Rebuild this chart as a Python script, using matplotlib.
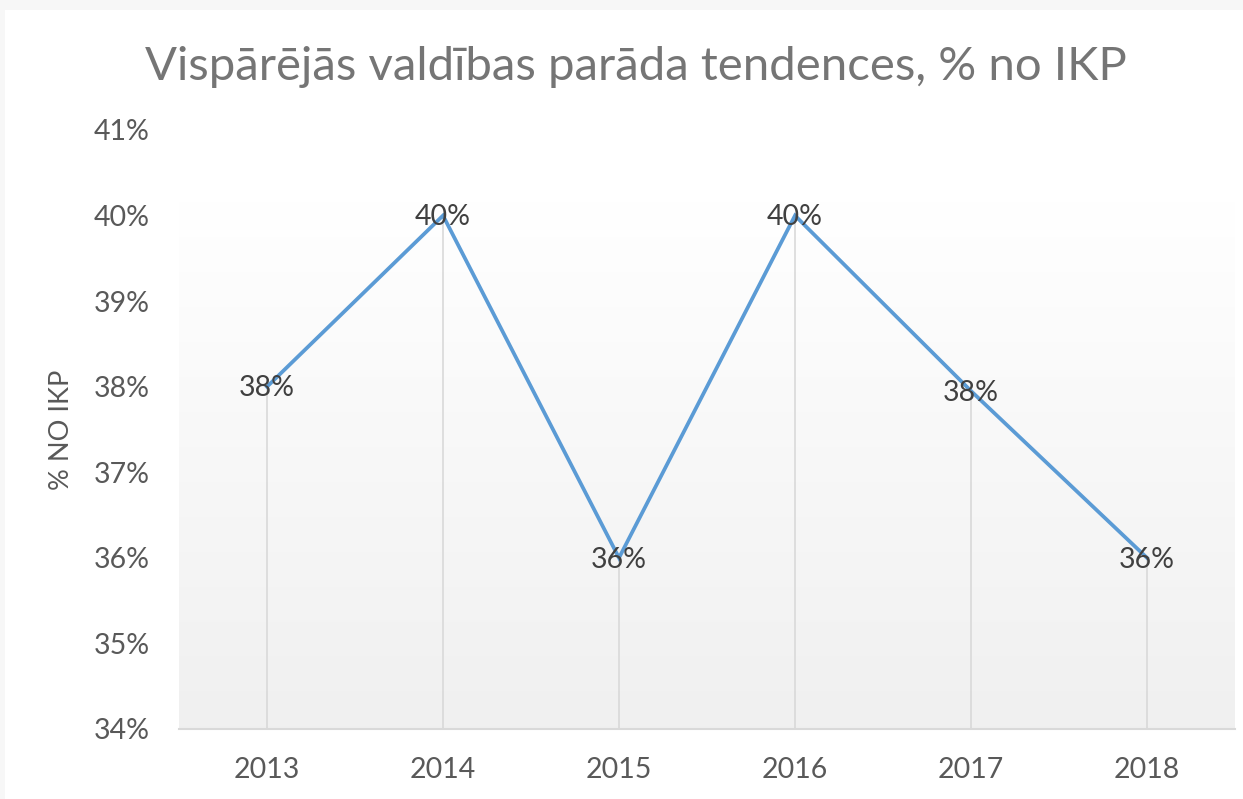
import matplotlib
matplotlib.use("Agg")
import matplotlib.pyplot as plt
import numpy as np
from matplotlib.patches import Rectangle

years = ["2013", "2014", "2015", "2016", "2017", "2018"]
debt_pct = [38.0, 40.0, 36.0, 40.0, 37.95, 36.0]
labels = ["38%", "40%", "36%", "40%", "38%", "36%"]
yticks = [34, 35, 36, 37, 38, 39, 40, 41]

plt.rcParams["font.family"] = ["Lato", "DejaVu Sans"]

fig = plt.figure(figsize=(12.43, 7.99), dpi=100)
fig.patch.set_facecolor("#f7f7f7")
fig.patches.append(Rectangle((5 / 1243, 0), 1, (799 - 10) / 799,
                             transform=fig.transFigure, facecolor="white",
                             edgecolor="none", zorder=-1))

ax = fig.add_axes([179 / 1243, (799 - 729) / 799, (1235 - 179) / 1243,
                   (729 - 130) / 799])
ax.set_facecolor("none")

x = np.arange(len(years))
ax.set_xlim(-0.5, len(years) - 0.5)
ax.set_ylim(34, 41)

# plot-area gradient (white at top -> light grey at bottom)
grad = np.linspace(1.0, 0.0, 256).reshape(-1, 1)
top = np.array([1.0, 1.0, 1.0])
bot = np.array([0.941, 0.941, 0.941])
img = top * grad[..., None] + bot * (1 - grad[..., None])
ax.imshow(img, extent=[-0.5, len(years) - 0.5, 34, 40.17], aspect="auto",
          zorder=0, interpolation="bilinear")

# drop lines
ax.vlines(x, 34, debt_pct, color="#d9d9d9", linewidth=1.2, zorder=1)

ax.plot(x, debt_pct, color="#5b9bd5", linewidth=2.7, zorder=3,
        solid_joinstyle="miter")

for xi, v, lab in zip(x, debt_pct, labels):
    ax.text(xi, v - 0.02, lab, ha="center", va="center", fontsize=20.5,
            color="#404040", zorder=4)

ax.set_xticks(x)
ax.set_xticklabels(years)
ax.set_yticks(yticks)
ax.set_yticklabels([f"{t}%" for t in yticks])
ax.tick_params(axis="both", length=0, labelsize=20.5, labelcolor="#595959")
ax.tick_params(axis="x", pad=20)
ax.tick_params(axis="y", pad=21)

for s in ["top", "right", "left"]:
    ax.spines[s].set_visible(False)
ax.spines["bottom"].set_color("#d9d9d9")
ax.spines["bottom"].set_linewidth(1.5)

ax.set_ylabel("% NO IKP", fontsize=19.5, color="#595959", labelpad=14)

fig.text(0.512, 1 - 67 / 799, "Vispārējās valdības parāda tendences, % no IKP",
         ha="center", va="center", fontsize=34, color="#757575")

fig.savefig("out.png", dpi=100, facecolor=fig.get_facecolor())
